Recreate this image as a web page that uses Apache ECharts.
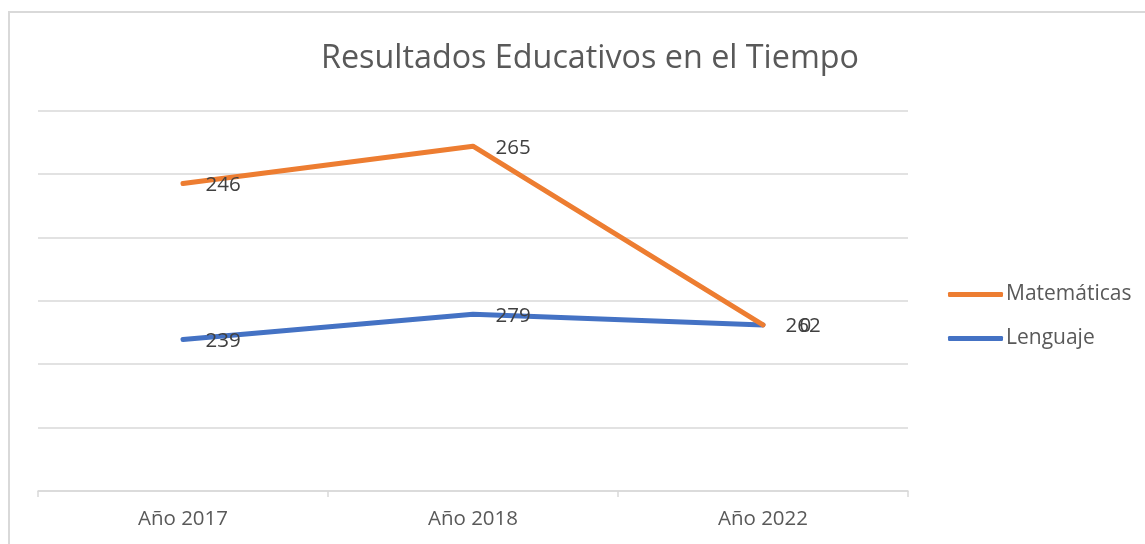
<!DOCTYPE html>
<html>
<head>
<meta charset="utf-8">
<script src="https://cdn.jsdelivr.net/npm/echarts@6/dist/echarts.min.js"></script>
<style>
html,body{margin:0;padding:0;background:#fff;overflow:hidden;}
#chart{position:absolute;left:0;top:0;width:1145px;height:544px;}
#frame{position:absolute;left:8px;top:11px;width:2000px;height:2000px;border:2px solid #d9d9d9;pointer-events:none;}
</style>
</head>
<body>
<div id="chart"></div>
<div id="frame"></div>
<script>
const titleText = 'Resultados Educativos en el Tiempo';
const categories = ['Año 2017', 'Año 2018', 'Año 2022'];
const matematicas = [246, 265, 0];
const lenguaje = [239, 279, 262];
const yTicks = [0, 100, 200, 300, 400, 500, 600];

const font = 'Open Sans';
const chart = echarts.init(document.getElementById('chart'), null, {renderer: 'canvas'});

const labelStyle = {show: true, position: 'right', distance: 22, offset: [0, 1.5], color: '#404040', fontSize: 20.5, fontFamily: font};

chart.setOption({
  animation: false,
  backgroundColor: 'transparent',
  title: {
    text: titleText,
    left: 585,
    textAlign: 'center',
    top: 38,
    textStyle: {color: '#595959', fontSize: 32.3, fontWeight: 'normal', fontFamily: font}
  },
  legend: {
    orient: 'vertical',
    left: 943,
    top: 279,
    itemGap: 23,
    itemWidth: 55,
    itemHeight: 5,
    icon: 'roundRect',
    data: ['Matemáticas', 'Lenguaje'],
    textStyle: {color: '#595959', fontSize: 21, fontFamily: font, padding: [0, 0, 0, -2]}
  },
  grid: {left: 38, right: 237, top: 110.7, bottom: 53, containLabel: false},
  xAxis: {
    type: 'category',
    data: categories,
    boundaryGap: true,
    axisLine: {lineStyle: {color: '#d9d9d9', width: 1.5}},
    axisTick: {show: true, length: 6, interval: 0, lineStyle: {color: '#d9d9d9', width: 1.5}},
    axisLabel: {color: '#595959', fontSize: 20.5, fontFamily: font, margin: 18}
  },
  yAxis: {
    type: 'value',
    min: yTicks[0],
    max: yTicks[yTicks.length - 1],
    interval: yTicks[1] - yTicks[0],
    axisLabel: {show: false},
    axisLine: {show: false},
    axisTick: {show: false},
    splitLine: {lineStyle: {color: '#d9d9d9', width: 1.5}}
  },
  series: [
    {
      name: 'Lenguaje',
      type: 'line',
      stack: 'total',
      data: lenguaje,
      symbol: 'circle',
      symbolSize: 1,
      showSymbol: true,
      color: '#4472C4',
      lineStyle: {width: 5, cap: 'round', join: 'round', color: '#4472C4'},
      label: labelStyle,
      z: 2
    },
    {
      name: 'Matemáticas',
      type: 'line',
      stack: 'total',
      data: matematicas.map((v, i) => i === 2 ? {value: v, label: {offset: [14, 1.5]}} : v),
      symbol: 'circle',
      symbolSize: 1,
      showSymbol: true,
      color: '#ED7D31',
      lineStyle: {width: 5, cap: 'round', join: 'round', color: '#ED7D31'},
      label: labelStyle,
      z: 3
    }
  ]
});
</script>
</body>
</html>
